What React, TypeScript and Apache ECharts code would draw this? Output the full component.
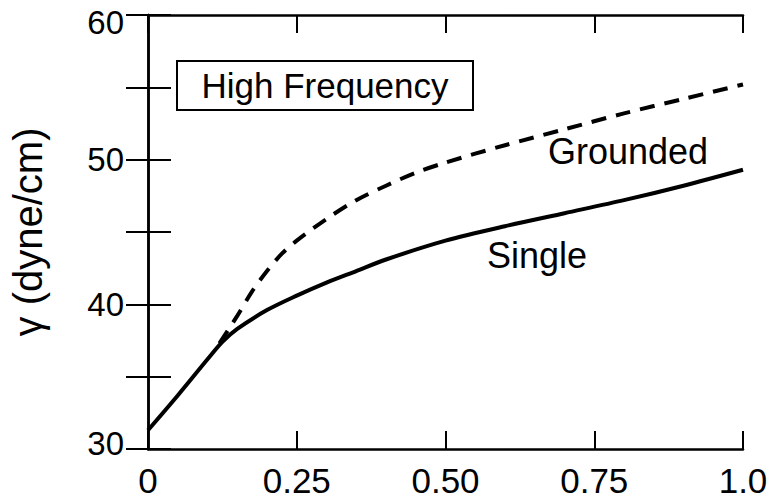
import React, { useEffect, useRef } from "react";
import * as echarts from "echarts";

const xTicks = [0, 0.25, 0.5, 0.75, 1.0];
const xTickLabels = ["0", "0.25", "0.50", "0.75", "1.0"];
const yLabelValues = [30, 40, 50, 60];

const singleX = [0, 0.05, 0.1, 0.125, 0.15, 0.2, 0.25, 0.3, 0.35, 0.4, 0.5, 0.6, 0.7, 0.8, 0.9, 1.0];
const singleY = [31.3, 33.7, 36.2, 37.4, 38.3, 39.6, 40.6, 41.5, 42.3, 43.1, 44.4, 45.4, 46.3, 47.2, 48.2, 49.3];

const groundedX = [0.12, 0.15, 0.175, 0.2, 0.225, 0.25, 0.3, 0.35, 0.4, 0.45, 0.5, 0.6, 0.7, 0.8, 0.9, 1.0];
const groundedY = [37.3, 39.2, 40.9, 42.3, 43.5, 44.4, 45.9, 47.2, 48.2, 49.1, 49.8, 51.0, 52.1, 53.2, 54.2, 55.2];

const FONT = "Liberation Sans, Arial, Helvetica, sans-serif";

export default function App() {
  const ref = useRef<HTMLDivElement>(null);
  useEffect(() => {
    document.body.style.margin = "0";
    if (!ref.current) return;
    const chart = echarts.init(ref.current, undefined, { renderer: "svg" });
    const axisLine = { show: true, lineStyle: { color: "#000", width: 2.5 } };
    const xFmt = (v: number) => {
      const i = xTicks.findIndex((t) => Math.abs(t - v) < 1e-9);
      return i >= 0 ? xTickLabels[i] : "";
    };
    const yMax = yLabelValues[yLabelValues.length - 1];
    const yMin = yLabelValues[0];
    const yFmt = (v: number) => {
      if (!yLabelValues.includes(v)) return "";
      if (v === yMax) return "{hi|" + v + "}";
      if (v === yMin) return "{lo|" + v + "}";
      return String(v);
    };
    const yLabelStyle = { color: "#000", fontSize: 33, fontFamily: FONT };
    chart.setOption({
      animation: false,
      backgroundColor: "#fff",
      grid: { left: 143, right: 29, top: 15, bottom: 55, containLabel: false },
      xAxis: [
        {
          type: "value",
          min: 0,
          max: 1,
          interval: 0.25,
          position: "bottom",
          axisLine,
          axisTick: { show: true, inside: true, length: 18, lineStyle: { color: "#000", width: 2 } },
          axisLabel: {
            formatter: xFmt,
            color: "#000",
            fontSize: 35,
            fontFamily: FONT,
            margin: 14,
          },
          splitLine: { show: false },
        },
        {
          type: "value",
          min: 0,
          max: 1,
          interval: 0.25,
          position: "top",
          axisLine,
          axisTick: { show: true, inside: true, length: 18, lineStyle: { color: "#000", width: 2 } },
          axisLabel: { show: false },
          splitLine: { show: false },
        },
      ],
      yAxis: [
        {
          type: "value",
          min: 30,
          max: 60,
          interval: 5,
          position: "left",
          name: "γ (dyne/cm)",
          nameLocation: "middle",
          nameGap: 100,
          nameTextStyle: { color: "#000", fontSize: 40, fontFamily: FONT },
          axisLine,
          axisTick: { show: true, inside: true, length: 23, lineStyle: { color: "#000", width: 2 } },
          axisLabel: {
            formatter: yFmt,
            ...yLabelStyle,
            margin: 24,
            rich: {
              hi: { ...yLabelStyle, padding: [14, 0, 0, 0] },
              lo: { ...yLabelStyle, padding: [0, 0, 12, 0] },
            },
          },
          splitLine: { show: false },
        },
        {
          type: "value",
          min: 30,
          max: 60,
          interval: 5,
          position: "right",
          axisLine,
          axisTick: { show: true, inside: true, length: 22, lineStyle: { color: "#000", width: 2 } },
          axisLabel: { show: false },
          splitLine: { show: false },
        },
      ],
      series: [
        {
          name: "Single",
          type: "line",
          xAxisIndex: 0,
          yAxisIndex: 0,
          data: singleX.map((x, i) => [x, singleY[i]]),
          showSymbol: false,
          smooth: 0.3,
          lineStyle: { color: "#000", width: 4, type: "solid" },
          z: 3,
        },
        {
          name: "Grounded",
          type: "line",
          xAxisIndex: 0,
          yAxisIndex: 0,
          data: groundedX.map((x, i) => [x, groundedY[i]]),
          showSymbol: false,
          smooth: 0.3,
          lineStyle: { color: "#000", width: 4, type: [15, 10] },
          z: 3,
        },
      ],
      graphic: [
        {
          type: "rect",
          shape: { x: 177, y: 61, width: 296, height: 49 },
          style: { fill: "#fff", stroke: "#000", lineWidth: 2 },
          z: 10,
        },
        {
          type: "text",
          x: 325,
          y: 85,
          style: {
            text: "High Frequency",
            fill: "#000",
            fontSize: 35,
            fontFamily: FONT,
            align: "center",
            verticalAlign: "middle",
          },
          z: 11,
        },
        {
          type: "text",
          x: 548,
          y: 151,
          style: {
            text: "Grounded",
            fill: "#000",
            fontSize: 36,
            fontFamily: FONT,
            align: "left",
            verticalAlign: "middle",
          },
          z: 11,
        },
        {
          type: "text",
          x: 487,
          y: 255,
          style: {
            text: "Single",
            fill: "#000",
            fontSize: 36,
            fontFamily: FONT,
            align: "left",
            verticalAlign: "middle",
          },
          z: 11,
        },
      ],
    });
    return () => chart.dispose();
  }, []);
  return <div ref={ref} style={{ width: 772, height: 504 }} />;
}
